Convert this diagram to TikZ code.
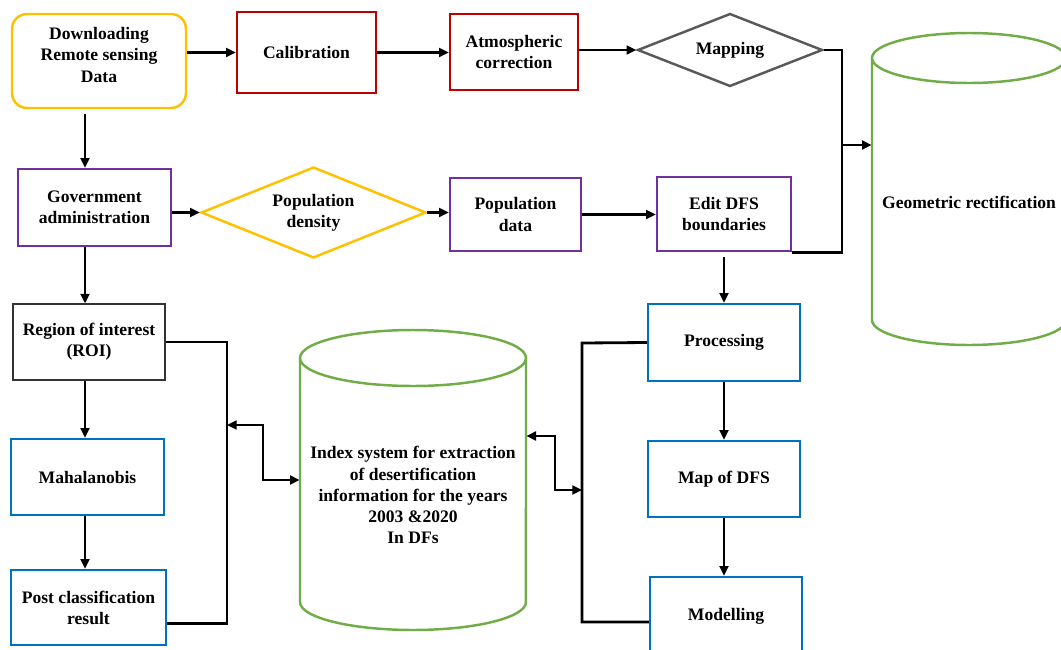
\documentclass[tikz,border=0pt]{standalone}
\usepackage{fontspec}
\setmainfont{Liberation Serif}
\usepackage{tikz}
\usetikzlibrary{positioning,arrows.meta,calc,shapes.geometric}
\definecolor{dfsyellow}{RGB}{255,192,0}
\definecolor{dfsred}{RGB}{192,0,0}
\definecolor{dfsgray}{RGB}{89,89,89}
\definecolor{dfspurple}{RGB}{112,48,160}
\definecolor{dfsblue}{RGB}{0,112,192}
\definecolor{dfsgreen}{RGB}{112,173,71}

\begin{document}
\begin{tikzpicture}[
  x=0.02cm,y=-0.02cm,
  txt/.style={font=\fontsize{10}{12}\selectfont\bfseries,align=center,inner sep=0pt},
  box/.style={txt,draw,line width=1.4pt},
  ybox/.style={box,draw=dfsyellow,rounded corners=0.3cm},
  rbox/.style={box,draw=dfsred},
  pbox/.style={box,draw=dfspurple},
  bbox/.style={box,draw=dfsblue},
  kbox/.style={box,draw=black!80,line width=0.6pt},
  dia/.style={txt,diamond,draw,line width=1.4pt,aspect=2.5},
  can/.style={draw=dfsgreen,line width=1.4pt},
  line/.style={line width=1.6pt},
  arr/.style={line,-{Triangle[length=5.5pt,width=5pt]}},
  dbl/.style={line,{Triangle[length=5.5pt,width=5pt]}-{Triangle[length=5.5pt,width=5pt]}}
]
\clip (0,0) rectangle (1061,649);

% top row
\node[ybox,minimum width=3.48cm,minimum height=1.88cm] (dl) at (99,61) {Downloading\\Remote sensing\\Data\\[-5pt]\mbox{}};
\node[rbox,minimum width=2.78cm,minimum height=1.62cm] (calib) at (306.5,52.5) {Calibration};
\node[rbox,minimum width=2.56cm,minimum height=1.52cm] (atmos) at (514,52) {Atmospheric\\correction};
\node[dia,draw=dfsgray,minimum width=3.7cm,minimum height=1.46cm] (mapping) at (730,50) {Mapping};

% geometric rectification (cylinder)
\node[txt,minimum width=3.88cm] (geo) at (969,202) {Geometric rectification};
\draw[can] (969,58) ellipse [x radius=1.94cm,y radius=0.5cm];
\draw[can] (872,58) -- (872,320) arc[start angle=180,end angle=360,x radius=1.94cm,y radius=0.5cm] -- (1066,58);

% second row
\node[pbox,minimum width=3.06cm,minimum height=1.54cm] (gov) at (94.5,207.5) {Government\\administration};
\node[dia,draw=dfsyellow,minimum width=4.5cm,minimum height=1.82cm] (popdens) at (313.5,212.5) {Population\\density};
\node[pbox,minimum width=2.62cm,minimum height=1.46cm] (popdata) at (515.5,214.5) {Population\\data};
\node[pbox,minimum width=2.68cm,minimum height=1.48cm] (edit) at (724,214) {Edit DFS\\boundaries};

% left column
\node[kbox,minimum width=3.04cm,minimum height=1.52cm] (roi) at (89,342) {Region of interest\\(ROI)};
\node[bbox,minimum width=3.06cm,minimum height=1.52cm] (maha) at (87.5,477) {Mahalanobis};
\node[bbox,minimum width=3.1cm,minimum height=1.5cm] (post) at (88.5,607.5) {Post classification\\result};

% right column
\node[bbox,minimum width=3.04cm,minimum height=1.54cm] (proc) at (724,342.5) {Processing};
\node[bbox,minimum width=3.04cm,minimum height=1.52cm] (mapdfs) at (724,479) {Map of DFS};
\node[bbox,minimum width=3.04cm,minimum height=1.56cm] (model) at (726,616) {Modelling};

% index system (cylinder)
\node[txt,minimum width=4.52cm] (index) at (413,495) {Index system for extraction\\of desertification\\information for the years\\2003 \&2020\\In DFs};
\draw[can] (413,358) ellipse [x radius=2.26cm,y radius=0.56cm];
\draw[can] (300,358) -- (300,602) arc[start angle=180,end angle=360,x radius=2.26cm,y radius=0.56cm] -- (526,358);

% bends
\coordinate (cl) at (85,0);
\coordinate (jr) at (842,145);
\coordinate (lt) at (227,342);
\coordinate (lk) at (263,425);
\coordinate (lj) at (263,480);
\coordinate (rt) at (582,343);
\coordinate (rk) at (555,436);
\coordinate (rj) at (582,490);

% connectors
\draw[arr] (dl.east |- calib.west) -- (calib.west);
\draw[arr] (calib.east) -- (calib.east -| atmos.west);
\draw[arr] (atmos.east |- mapping.west) -- (mapping.west);
\draw[line] (mapping.east) -| (jr) |- (edit.south east);
\draw[arr] (jr) -- (jr -| geo.west);
\draw[arr] ([yshift=-3pt]dl.south -| cl) -- (gov.north -| cl);
\draw[arr] (gov.east |- popdens.west) -- (popdens.west);
\draw[arr] (popdens.east) -- (popdens.east -| popdata.west);
\draw[arr] (popdata.east) -- (popdata.east -| edit.west);
\draw[arr] ([yshift=-3pt]edit.south) -- (proc.north);
\draw[arr] (gov.south -| cl) -- (roi.north -| cl);
\draw[arr] (roi.south -| cl) -- (maha.north -| cl);
\draw[arr] (maha.south -| cl) -- (post.north -| cl);
\draw[arr] (proc.south) -- (mapdfs.north);
\draw[arr] (mapdfs.south) -- (mapdfs.south |- model.north);

\draw[line] (roi.east) -- (lt) |- ([yshift=-9pt]post.east);
\draw[dbl] (lk -| lt) -- (lk) -- (lj) -- (lj -| index.west);
\draw[line] (proc.west) -- (rt) |- ([yshift=-3.4pt]model.west);
\draw[dbl] (rk -| index.east) -- (rk) |- (rj);
\end{tikzpicture}
\end{document}
